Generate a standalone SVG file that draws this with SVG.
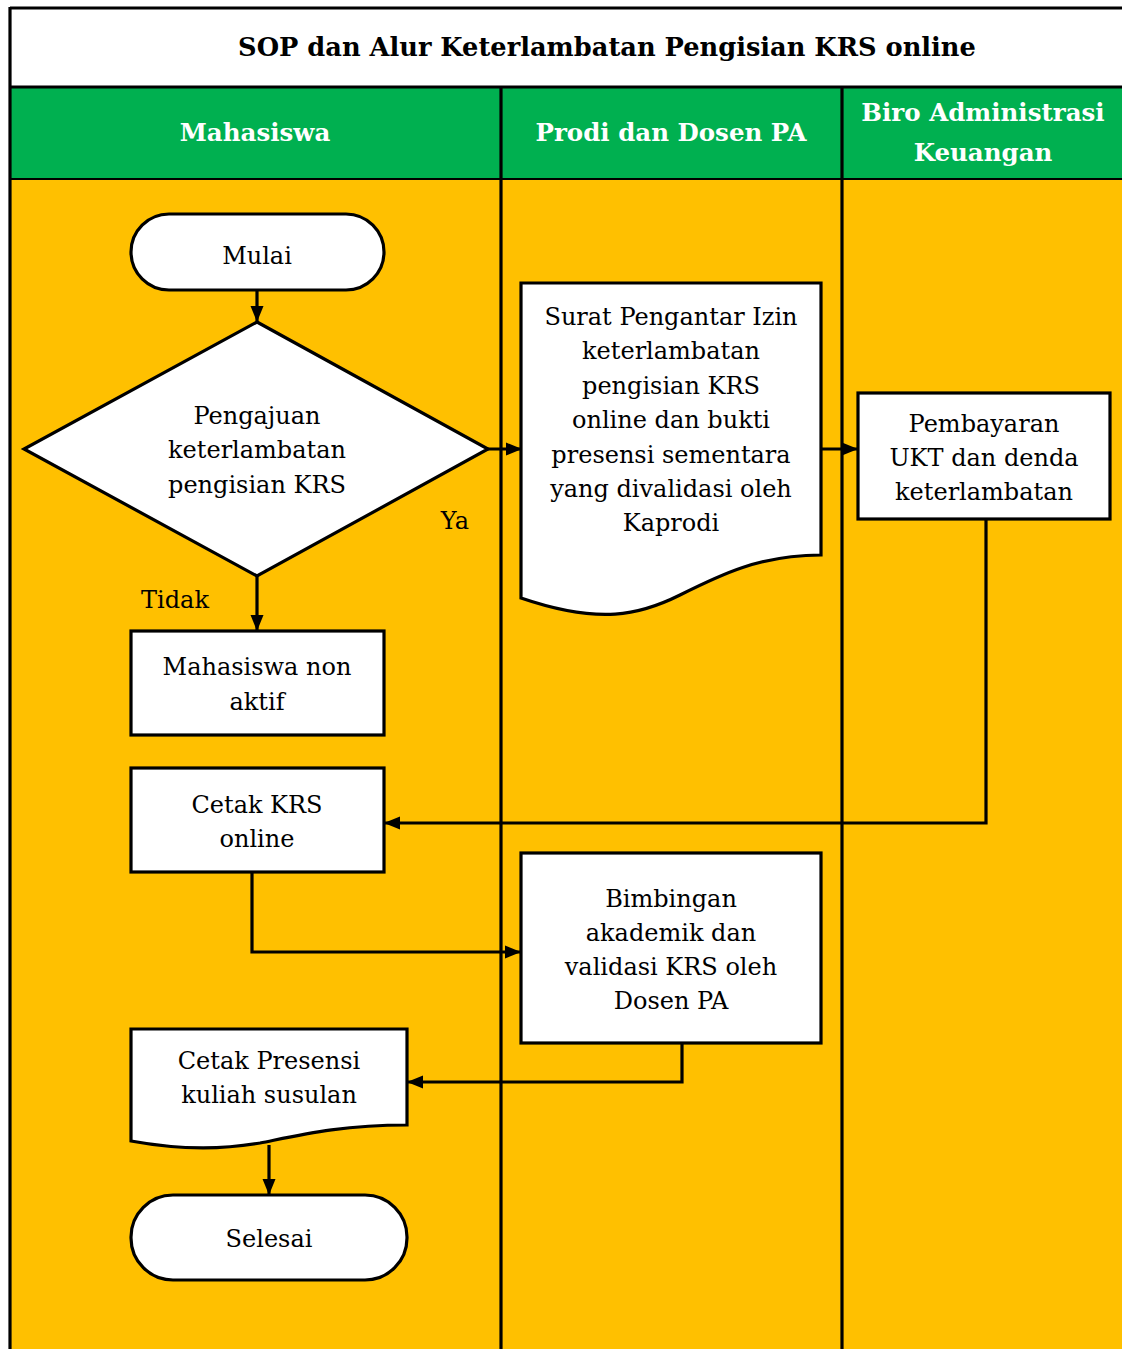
<svg xmlns="http://www.w3.org/2000/svg" width="1122" height="1349" viewBox="0 0 1122 1349">
<style>
.t{font-family:"DejaVu Serif","Liberation Serif",serif;font-size:24px;fill:#000;text-anchor:middle}
.h{font-family:"DejaVu Serif","Liberation Serif",serif;font-size:24.5px;font-weight:bold;fill:#fff;text-anchor:middle}
.ti{font-family:"DejaVu Serif","Liberation Serif",serif;font-size:25.7px;font-weight:bold;fill:#000;text-anchor:middle}
.s{fill:#fff;stroke:#000;stroke-width:3.2}
.c{fill:none;stroke:#000;stroke-width:3.2}
.ln{stroke:#000;stroke-width:3.2}
</style>
<defs>
<marker id="a" markerUnits="userSpaceOnUse" markerWidth="16" markerHeight="16" viewBox="0 0 16 16" refX="15" refY="8" orient="auto">
<path d="M0,1.5 L16,8 L0,14.5 Z" fill="#000"/>
</marker>
</defs>
<g id="background">
<rect x="10" y="8" width="1112" height="79" fill="#fff"/>
<rect x="10" y="87" width="1112" height="91" fill="#00B050"/>
<rect x="10" y="179" width="1112" height="1170" fill="#FFC000"/>
<line class="ln" x1="10" y1="8" x2="1122" y2="8"/>
<line class="ln" x1="10" y1="87" x2="1122" y2="87"/>
<line x1="10" y1="179" x2="1122" y2="179" stroke="#000" stroke-width="2"/>
<line class="ln" x1="10" y1="7" x2="10" y2="1349"/>
<line class="ln" x1="501" y1="87" x2="501" y2="1349"/>
<line class="ln" x1="842" y1="87" x2="842" y2="1349"/>
</g>
<g id="title"><text class="ti" x="607" y="56">SOP dan Alur Keterlambatan Pengisian KRS online</text></g>
<g id="lane-headers">
<text class="h" x="255" y="141">Mahasiswa</text>
<text class="h" x="671" y="141">Prodi dan Dosen PA</text>
<text class="h" x="983" y="121">Biro Administrasi</text>
<text class="h" x="983" y="161">Keuangan</text>
</g>
<g id="connectors">
<line class="c" x1="257" y1="290" x2="257" y2="321" marker-end="url(#a)"/>
<line class="c" x1="488" y1="449" x2="521" y2="449" marker-end="url(#a)"/>
<line class="c" x1="821" y1="449" x2="857" y2="449" marker-end="url(#a)"/>
<line class="c" x1="257" y1="576" x2="257" y2="630" marker-end="url(#a)"/>
<polyline class="c" points="986,519 986,823 385,823" marker-end="url(#a)"/>
<polyline class="c" points="252,872 252,952 520,952" marker-end="url(#a)"/>
<polyline class="c" points="682,1043 682,1082 408,1082" marker-end="url(#a)"/>
<line class="c" x1="269" y1="1145" x2="269" y2="1194" marker-end="url(#a)"/>
<text class="t" x="455" y="529">Ya</text>
<text class="t" x="175" y="608">Tidak</text>
</g>
<g id="mulai">
<rect class="s" x="131" y="214" width="253" height="76" rx="38"/>
<text class="t" x="257" y="264">Mulai</text>
</g>
<g id="pengajuan">
<polygon class="s" points="257,322 488,449 257,576 24,449"/>
<text class="t" x="257" y="424">Pengajuan</text>
<text class="t" x="257" y="458">keterlambatan</text>
<text class="t" x="257" y="493">pengisian KRS</text>
</g>
<g id="surat-pengantar">
<path class="s" d="M521,283 H821 V555 C760,555 720,575 680,595 C640,615 600,625 521,598 Z"/>
<text class="t" x="671" y="325">Surat Pengantar Izin</text>
<text class="t" x="671" y="359">keterlambatan</text>
<text class="t" x="671" y="394">pengisian KRS</text>
<text class="t" x="671" y="428">online dan bukti</text>
<text class="t" x="671" y="463">presensi sementara</text>
<text class="t" x="671" y="497">yang divalidasi oleh</text>
<text class="t" x="671" y="531">Kaprodi</text>
</g>
<g id="pembayaran">
<rect class="s" x="858" y="393" width="252" height="126"/>
<text class="t" x="984" y="432">Pembayaran</text>
<text class="t" x="984" y="466">UKT dan denda</text>
<text class="t" x="984" y="500">keterlambatan</text>
</g>
<g id="nonaktif">
<rect class="s" x="131" y="631" width="253" height="104"/>
<text class="t" x="257" y="675">Mahasiswa non</text>
<text class="t" x="257" y="710">aktif</text>
</g>
<g id="cetak-krs">
<rect class="s" x="131" y="768" width="253" height="104"/>
<text class="t" x="257" y="813">Cetak KRS</text>
<text class="t" x="257" y="847">online</text>
</g>
<g id="bimbingan">
<rect class="s" x="521" y="853" width="300" height="190"/>
<text class="t" x="671" y="907">Bimbingan</text>
<text class="t" x="671" y="941">akademik dan</text>
<text class="t" x="671" y="975">validasi KRS oleh</text>
<text class="t" x="671" y="1009">Dosen PA</text>
</g>
<g id="cetak-presensi">
<path class="s" d="M131,1029 H407 V1125 C340,1125 300,1135 260,1143 C220,1150 180,1150 131,1141 Z"/>
<text class="t" x="269" y="1069">Cetak Presensi</text>
<text class="t" x="269" y="1103">kuliah susulan</text>
</g>
<g id="selesai">
<rect class="s" x="131" y="1195" width="276" height="85" rx="42"/>
<text class="t" x="269" y="1247">Selesai</text>
</g>
</svg>
